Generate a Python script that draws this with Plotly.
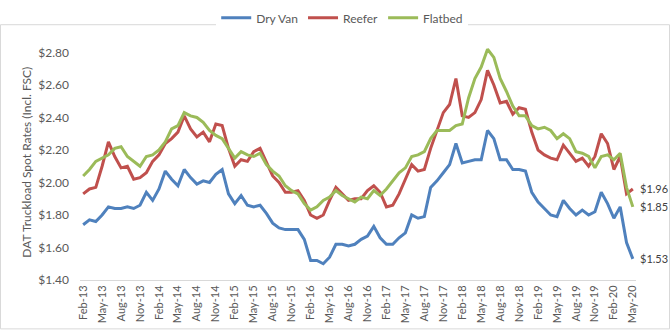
import plotly.graph_objects as go
import pandas as pd

months = list(pd.date_range("2013-02-01", periods=88, freq="MS").strftime("%b-%y"))

dry_van = [1.74, 1.77, 1.76, 1.80, 1.85, 1.84, 1.84, 1.85, 1.84, 1.86,
           1.94, 1.89, 1.96, 2.07, 2.02, 1.98, 2.08, 2.03, 1.99, 2.01,
           2.00, 2.05, 2.08, 1.93, 1.87, 1.92, 1.86, 1.85, 1.86, 1.81,
           1.75, 1.72, 1.71, 1.71, 1.71, 1.65, 1.52, 1.52, 1.50, 1.54,
           1.62, 1.62, 1.61, 1.62, 1.65, 1.67, 1.73, 1.66, 1.62, 1.62,
           1.66, 1.69, 1.80, 1.78, 1.79, 1.97, 2.01, 2.06, 2.11, 2.24,
           2.12, 2.13, 2.14, 2.14, 2.32, 2.27, 2.14, 2.14, 2.08, 2.08,
           2.07, 1.94, 1.88, 1.84, 1.80, 1.79, 1.89, 1.84, 1.80, 1.83,
           1.80, 1.82, 1.94, 1.87, 1.78, 1.85, 1.63, 1.53]

reefer = [1.93, 1.96, 1.97, 2.10, 2.25, 2.16, 2.09, 2.10, 2.02, 2.03,
          2.06, 2.13, 2.17, 2.24, 2.27, 2.31, 2.41, 2.33, 2.28, 2.31,
          2.25, 2.36, 2.35, 2.21, 2.10, 2.14, 2.13, 2.19, 2.21, 2.12,
          2.04, 2.00, 1.94, 1.94, 1.95, 1.89, 1.80, 1.78, 1.80, 1.89,
          1.97, 1.93, 1.89, 1.90, 1.90, 1.95, 1.98, 1.94, 1.85, 1.86,
          1.93, 2.02, 2.11, 2.07, 2.08, 2.21, 2.32, 2.43, 2.48, 2.64,
          2.41, 2.40, 2.43, 2.51, 2.69, 2.60, 2.49, 2.50, 2.42, 2.46,
          2.45, 2.31, 2.20, 2.17, 2.15, 2.14, 2.23, 2.18, 2.13, 2.15,
          2.10, 2.16, 2.30, 2.24, 2.08, 2.16, 1.93, 1.96]

flatbed = [2.04, 2.08, 2.13, 2.15, 2.17, 2.21, 2.22, 2.16, 2.13, 2.10,
           2.16, 2.17, 2.20, 2.25, 2.33, 2.35, 2.43, 2.41, 2.40, 2.37,
           2.32, 2.29, 2.27, 2.21, 2.15, 2.19, 2.17, 2.16, 2.18, 2.11,
           2.07, 2.04, 1.98, 1.95, 1.93, 1.87, 1.83, 1.85, 1.89, 1.91,
           1.95, 1.92, 1.90, 1.88, 1.91, 1.90, 1.95, 1.92, 1.96, 2.01,
           2.06, 2.09, 2.16, 2.17, 2.19, 2.27, 2.32, 2.32, 2.32, 2.35,
           2.36, 2.52, 2.64, 2.71, 2.82, 2.77, 2.64, 2.56, 2.47, 2.41,
           2.41, 2.35, 2.33, 2.34, 2.32, 2.27, 2.30, 2.27, 2.19, 2.18,
           2.16, 2.09, 2.16, 2.17, 2.14, 2.18, 1.97, 1.85]

y_ticks = [1.40, 1.60, 1.80, 2.00, 2.20, 2.40, 2.60, 2.80]

series = [("Dry Van", dry_van, "#4F81BD"),
          ("Reefer", reefer, "#C0504D"),
          ("Flatbed", flatbed, "#9BBB59")]

FONT = "Lato"
TXT = "#595959"

fig = go.Figure()
idx = list(range(len(months)))
for name, vals, col in series:
    fig.add_trace(go.Scatter(x=idx, y=vals, mode="lines", name=name,
                             line=dict(color=col, width=3)))

for name, vals, col in series:
    fig.add_annotation(x=idx[-1], y=vals[-1], text=f"${vals[-1]:.2f}",
                       showarrow=False, xanchor="left", xshift=5,
                       font=dict(family=FONT, size=11, color="#404040"))

tick_idx = idx[::3]
fig.update_xaxes(range=[-0.5, len(months) - 0.5], tickmode="array",
                 tickvals=tick_idx, ticktext=[months[i] for i in tick_idx],
                 tickangle=-90, showgrid=False, zeroline=False,
                 showline=True, linecolor="#D9D9D9", linewidth=1,
                 ticks="", tickfont=dict(family=FONT, size=11, color=TXT))
fig.update_yaxes(range=[1.40, 2.85], tickmode="array", tickvals=y_ticks,
                 ticktext=[f"${v:.2f}" for v in y_ticks],
                 showgrid=False, zeroline=False, showline=False, ticks="",
                 ticklabelstandoff=10,
                 tickfont=dict(family=FONT, size=12, color=TXT),
                 title=dict(text="DAT Truckload Spot Rates (Incl. FSC)",
                            font=dict(family=FONT, size=12, color=TXT),
                            standoff=4))

fig.add_shape(type="rect", xref="paper", yref="paper",
              x0=(0.5 - 80) / 556, x1=(669.5 - 80) / 556,
              y0=(280 - 333.5) / 258, y1=(280 - 0.5) / 258,
              line=dict(color="#D9D9D9", width=1), fillcolor="rgba(0,0,0,0)")

fig.update_layout(width=671, height=335,
                  margin=dict(l=80, r=35, t=22, b=55),
                  paper_bgcolor="white", plot_bgcolor="white",
                  showlegend=True,
                  legend=dict(orientation="h", x=0.51, xref="container",
                              xanchor="center", y=0.99, yref="container",
                              yanchor="top", itemwidth=30,
                              font=dict(family=FONT, size=12, color=TXT)))

fig.write_html("out.html")
